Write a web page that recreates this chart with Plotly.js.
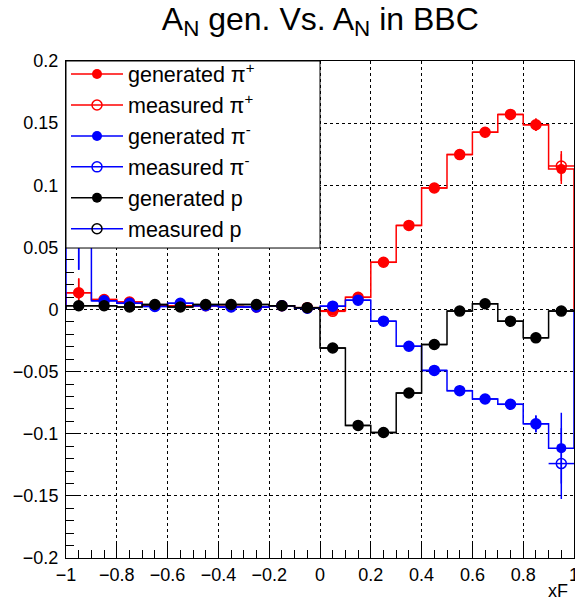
<!DOCTYPE html>
<html><head><meta charset="utf-8">
<script src="https://cdn.plot.ly/plotly-3.0.1.min.js"></script>
<style>html,body{margin:0;padding:0;background:#fff}#chart{width:575px;height:603px}</style>
</head><body><div id="chart"></div>
<script>
// ---- data ----
const binCenters = [-0.95,-0.85,-0.75,-0.65,-0.55,-0.45,-0.35,-0.25,-0.15,-0.05,0.05,0.15,0.25,0.35,0.45,0.55,0.65,0.75,0.85,0.95];
const binHalfWidth = 0.05;

const genPiPlus  = [0.0135,0.008,0.006,0.003,0.003,0.003,0.0025,0.002,0.003,0.0015,-0.001,0.0098,0.038,0.0677,0.0978,0.1247,0.1427,0.157,0.1487,0.113];
const measPiPlus = [0.0135,0.008,0.006,0.003,0.003,0.003,0.0025,0.002,0.003,0.0015,-0.0015,0.0098,0.038,0.0677,0.0978,0.1247,0.1427,0.157,0.1487,0.1155];
const errPiPlus  = [0.0115,0.004,0.003,0.002,0.002,0.002,0.002,0.002,0.002,0.002,0.002,0.003,0.003,0.003,0.003,0.004,0.004,0.004,0.005,0.012];

const genPiMinus  = [0.08,0.007,0.005,0.0025,0.005,0.003,0.002,0.002,0.003,0.001,0.0027,0.0075,-0.0094,-0.0296,-0.049,-0.0653,-0.072,-0.0763,-0.092,-0.1116];
const measPiMinus = [0.08,0.007,0.005,0.0025,0.005,0.003,0.002,0.002,0.003,0.001,0.0027,0.0075,-0.0094,-0.0296,-0.049,-0.0653,-0.072,-0.0763,-0.092,-0.124];
const errPiMinus  = [0.048,0.004,0.003,0.002,0.002,0.002,0.002,0.002,0.002,0.002,0.002,0.003,0.003,0.003,0.003,0.004,0.004,0.004,0.0067,0.0285];

const genP  = [0.003,0.003,0.002,0.004,0.002,0.004,0.004,0.004,0.003,0.0015,-0.031,-0.0933,-0.099,-0.0672,-0.0282,-0.0013,0.0046,-0.0094,-0.0228,-0.0013];
const measP = [0.003,0.003,0.002,0.004,0.002,0.004,0.004,0.004,0.003,0.0015,-0.031,-0.0933,-0.099,-0.0672,-0.0282,-0.0013,0.0046,-0.0094,-0.0228,-0.0013];
const errP  = [0.002,0.002,0.002,0.002,0.002,0.002,0.002,0.002,0.002,0.002,0.003,0.003,0.003,0.003,0.003,0.003,0.003,0.003,0.003,0.003];

const seriesNames = ['generated π<sup>+</sup>','measured π<sup>+</sup>','generated π<sup>-</sup>','measured π<sup>-</sup>','generated p','measured p'];

const xTickVals = [-1,-0.8,-0.6,-0.4,-0.2,0,0.2,0.4,0.6,0.8,1];
const xTickText = ['\u22121','\u22120.8','\u22120.6','\u22120.4','\u22120.2','0','0.2','0.4','0.6','0.8','1'];
const yTickVals = [-0.2,-0.15,-0.1,-0.05,0,0.05,0.1,0.15,0.2];
const yTickText = ['\u22120.2','\u22120.15','\u22120.1','\u22120.05','0','0.05','0.1','0.15','0.2'];

const titleText = 'A<sub>N</sub> gen. Vs. A<sub>N</sub> in BBC';
const xTitleText = 'xF';

// ---- helpers building library inputs ----
function stepXY(vals){
  const n = vals.length, xs = [], ys = [];
  xs.push(binCenters[0]-binHalfWidth); ys.push(0);
  for(let i=0;i<n;i++){ xs.push(binCenters[i]-binHalfWidth); ys.push(vals[i]); }
  xs.push(binCenters[n-1]+binHalfWidth); ys.push(vals[n-1]);
  xs.push(binCenters[n-1]+binHalfWidth); ys.push(0);
  return {x:xs, y:ys};
}
function gapped(arr){ const out=[]; arr.forEach((v,i)=>{ if(i) out.push(null); out.push(v); }); return out; }

const RED='#ff0000', BLUE='#0000ff', BLACK='#000000';
const traces = [];
function addGroup(gen, meas, err, color, measLineColor, nameGen, nameMeas){
  const s = stepXY(gen);
  traces.push({x:s.x, y:s.y, mode:'lines', line:{shape:'hv', color:color, width:1.5}, showlegend:false, hoverinfo:'skip'});
  traces.push({x:gapped(binCenters), y:gapped(gen), mode:'lines+markers', connectgaps:false, name:nameGen,
    line:{color:color, width:1.5}, marker:{symbol:'circle', size:10, color:color},
    error_y:{type:'data', array:gapped(err), color:color, thickness:1.5, width:0}});
  traces.push({x:gapped(binCenters), y:gapped(meas), mode:'lines+markers', connectgaps:false, name:nameMeas,
    line:{color:measLineColor, width:1.5}, marker:{symbol:'circle-open', size:10, color:color, line:{width:1.5, color:color}},
    error_y:{type:'data', array:gapped(err), color:color, thickness:1.5, width:0},
    error_x:{type:'constant', value:binHalfWidth, color:color, thickness:1.5, width:0}});
}
addGroup(genPiPlus, measPiPlus, errPiPlus, RED, RED, seriesNames[0], seriesNames[1]);
addGroup(genPiMinus, measPiMinus, errPiMinus, BLUE, BLUE, seriesNames[2], seriesNames[3]);
addGroup(genP, measP, errP, BLACK, BLUE, seriesNames[4], seriesNames[5]);

const FONT = 'Liberation Sans, Arial, Helvetica, sans-serif';
const layout = {
  width:575, height:603,
  margin:{l:66, r:1, t:61, b:45, pad:0},
  paper_bgcolor:'#fff', plot_bgcolor:'#fff',
  font:{family:FONT, color:'#000', size:18},
  title:{text:titleText, font:{family:FONT, size:32, color:'#000'}, x:0.557, xanchor:'center', xref:'container', y:0.988, yanchor:'top', yref:'container'},
  showlegend:true,
  legend:{x:0, y:1.015, xanchor:'left', yanchor:'top', xref:'paper', yref:'paper', bgcolor:'rgba(0,0,0,0)', borderwidth:0,
    font:{family:FONT, size:21.5, color:'#000'}, itemwidth:52, tracegroupgap:0, traceorder:'normal'},
  // legend frame (white box hiding the data under the legend, as in the reference)
  shapes:[{type:'rect', xref:'paper', yref:'paper', x0:0, x1:0.5, y0:0.6237, y1:1, layer:'above',
    fillcolor:'#fff', line:{color:'#000', width:1}}],
  xaxis:{range:[-1,1], tickmode:'array', tickvals:xTickVals, ticktext:xTickText, ticks:'inside', ticklen:15, tickcolor:'#000', tickwidth:1,
    showline:true, mirror:true, linecolor:'#000', linewidth:1, showgrid:true, gridcolor:'#000', griddash:'dot', gridwidth:1, zeroline:false,
    minor:{dtick:0.05, tick0:0, ticks:'inside', ticklen:8, tickcolor:'#000', showgrid:false},
    tickfont:{family:FONT, size:18, color:'#000'}, ticklabeloverflow:'allow', fixedrange:true},
  yaxis:{range:[-0.2,0.2], tickmode:'array', tickvals:yTickVals, ticktext:yTickText, ticks:'inside', ticklen:15, tickcolor:'#000', tickwidth:1,
    showline:true, mirror:true, linecolor:'#000', linewidth:1, showgrid:true, gridcolor:'#000', griddash:'dot', gridwidth:1, zeroline:false,
    minor:{dtick:0.01, tick0:0, ticks:'inside', ticklen:8, tickcolor:'#000', showgrid:false},
    tickfont:{family:FONT, size:18, color:'#000'}, ticklabelstandoff:3, ticklabeloverflow:'allow', fixedrange:true},
  annotations:[{text:xTitleText, xref:'paper', yref:'paper', x:1, y:0, xanchor:'right', yanchor:'top', xshift:-4, yshift:-21, showarrow:false,
    font:{family:FONT, size:18, color:'#000'}}]
};
Plotly.newPlot('chart', traces, layout, {staticPlot:true, displayModeBar:false});
</script></body></html>
